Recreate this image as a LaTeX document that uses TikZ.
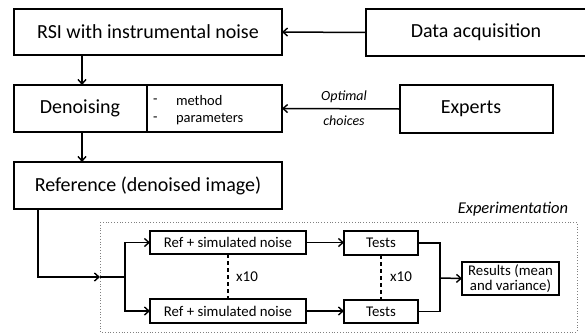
\documentclass[tikz,border=0pt]{standalone}
\usepackage{fontspec}
\setmainfont{Carlito}
\usetikzlibrary{arrows.meta,calc}
\begin{document}
\begin{tikzpicture}[x=1pt,y=-1pt,
  bigbox/.style={draw,line width=1.4pt,inner sep=0pt,outer sep=0pt,anchor=north west,font=\fontsize{20}{23}\selectfont},
  smallbox/.style={draw,line width=1.1pt,inner sep=0pt,outer sep=0pt,anchor=north west,font=\fontsize{14.8}{16.5}\selectfont},
  lbl/.style={inner sep=0pt,outer sep=0pt},
  arr/.style={line width=1.5pt,-{Straight Barb[length=4.5pt,width=8pt,line width=1.4pt]}},
  ln/.style={line width=1.5pt},
  vdash/.style={line width=1.1pt,dash pattern=on 4pt off 3pt},
]
\useasboundingbox (0,0) rectangle (585,333);
% top row
\node[bigbox,minimum width=268pt,minimum height=46pt] (rsi) at (14,9) {RSI with instrumental noise};
\node[bigbox,minimum width=240pt,minimum height=47pt] (daq) at (366,9) {};
\node[lbl,font=\fontsize{20}{23}\selectfont] (daqt) at (476,32.5) {Data acquisition};
% second row
\node[bigbox,minimum width=268pt,minimum height=47pt] (den) at (14,85) {};
\draw[line width=1.1pt] ($(den.north west)+(133,0)$) coordinate (dv1) -- ($(den.south west)+(133,0)$) coordinate (dv2);
\node[lbl,font=\fontsize{20}{23}\selectfont] (dent) at (80,108.5) {Denoising};
\node[lbl,anchor=west,font=\fontsize{14.5}{16}\selectfont] (m1d) at (153,101) {-};
\node[lbl,anchor=west,font=\fontsize{14.5}{16}\selectfont] (m1) at (176,101) {method};
\node[lbl,anchor=west,font=\fontsize{14.5}{16}\selectfont] (m2d) at (153,119) {-};
\node[lbl,anchor=west,font=\fontsize{14.5}{16}\selectfont] (m2) at (176,119) {parameters};
\node[bigbox,minimum width=153pt,minimum height=48pt] (exp) at (400,85) {};
\node[lbl,font=\fontsize{20}{23}\selectfont] (expt) at (471,109) {Experts};
\node[lbl,font=\fontsize{14}{15}\selectfont\itshape] (opt) at (344,96.5) {Optimal};
\node[lbl,font=\fontsize{14}{15}\selectfont\itshape] (cho) at (344,121) {choices};
% third row
\node[bigbox,minimum width=268pt,minimum height=47pt] (ref) at (14,162) {Reference (denoised image)};
% experimentation frame
\draw[gray,line width=0.8pt,dotted] (100,222) rectangle (577,332);
\node[lbl,anchor=east,font=\fontsize{16.5}{18}\selectfont\itshape] (expm) at (568,209) {Experimentation};
\node[smallbox,minimum width=156pt,minimum height=23pt] (rs1) at (150,231) {Ref + simulated noise};
\node[smallbox,minimum width=156pt,minimum height=24pt] (rs2) at (150,299) {Ref + simulated noise};
\node[smallbox,minimum width=74pt,minimum height=24pt] (t1) at (344,231) {Tests};
\node[smallbox,minimum width=74pt,minimum height=23pt] (t2) at (344,300) {Tests};
\node[smallbox,minimum width=97pt,minimum height=33pt,align=center] (res) at (462,262) {Results (mean\\[-1.5pt]and variance)};
\node[lbl,font=\fontsize{15}{16}\selectfont] (x1) at (247,277) {x10};
\node[lbl,font=\fontsize{15}{16}\selectfont] (x2) at (401,277) {x10};
% coordinates
\coordinate (col) at (82,0);
\coordinate (rc) at (38,0);
\coordinate (entry) at (100,277);
\coordinate (split) at (125,277);
\coordinate (jn) at (440,278);
\coordinate (dl) at (228,0);
% connectors
\draw[arr] (daq.west) -- (rsi.east);
\draw[arr] (rsi.south -| col) -- (den.north -| col);
\draw[arr] (exp.west) -- (den.east);
\draw[arr] (den.south -| col) -- (ref.north -| col);
\draw[arr] (ref.south -| rc) |- (entry);
\draw[ln] (entry) -- (split);
\draw[arr] (split) |- (rs1.west);
\draw[arr] (split) |- (rs2.west);
\draw[arr] (rs1.east) -- (t1.west |- rs1.east);
\draw[arr] (rs2.east) -- (t2.west |- rs2.east);
\draw[vdash] (rs1.south -| dl) -- (rs2.north -| dl);
\draw[vdash] (t1.south) -- (t2.north);
\draw[ln] (t1.east) -| (jn) |- (t2.east);
\draw[arr] (jn) -- (res.west);
\end{tikzpicture}
\end{document}
